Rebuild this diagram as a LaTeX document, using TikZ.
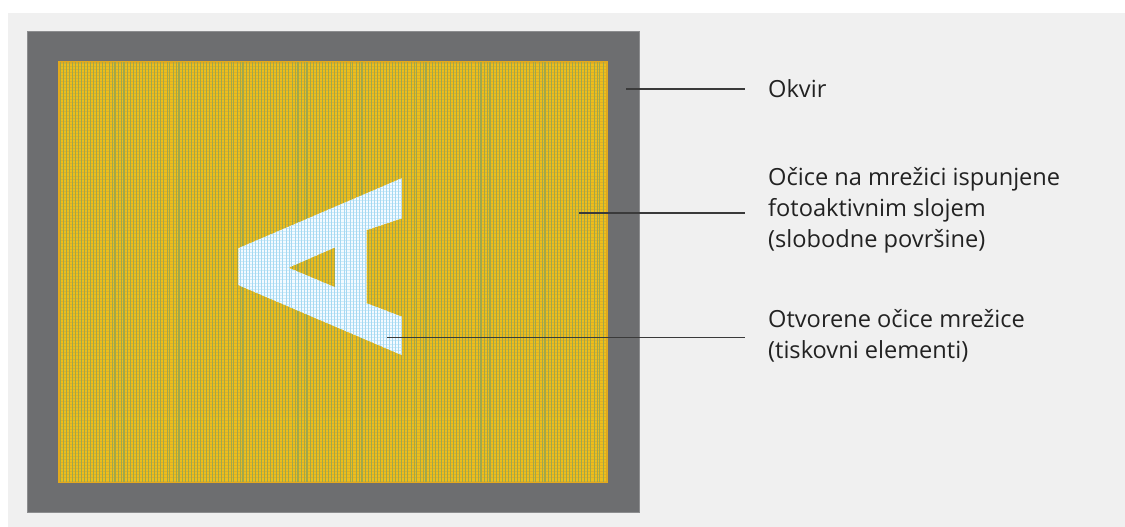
\documentclass[tikz,border=0pt]{standalone}
\usepackage{fontspec}
\setmainfont{Open Sans}
\definecolor{bgc}{HTML}{F0F0F0}
\definecolor{framec}{HTML}{6D6E70}
\definecolor{framee}{HTML}{8C8D8F}
\definecolor{yel}{HTML}{ECBE1C}
\definecolor{yele}{HTML}{E2A91E}
\definecolor{vline}{HTML}{A0A84A}
\definecolor{hline}{HTML}{E0AE26}
\definecolor{awhite}{HTML}{F4FAFF}
\definecolor{ablue}{HTML}{A6D8F2}
\definecolor{ablueh}{HTML}{CDEBF9}
\definecolor{leader}{HTML}{3A3A3A}
\definecolor{txt}{HTML}{222222}
\tikzset{
  leaderline/.style={draw=leader, line width=1.3pt},
  label/.style={anchor=base west, inner sep=0pt, text=txt, align=left,
    font=\fontsize{23.6}{31}\selectfont},
}
\begin{document}
\begin{tikzpicture}[x=1pt,y=-1pt]
\useasboundingbox (0,0) rectangle (1125,527);
\fill[bgc] (8,13) rectangle (1125,527);
% frame
\fill[framec, draw=framee, line width=0.8pt] (27,31) rectangle (639,512);
% yellow mesh
\fill[yel, draw=yele, line width=1.2pt] (59,62) rectangle (607,482);
\begin{scope}
  \clip (60,63) rectangle (606,481);
  \foreach \i in {0,...,140} {
    \draw[hline, line width=0.7pt] (59,{63+3.05*\i}) -- (607,{63+3.05*\i});
  }
  \foreach \i in {0,...,180} {
    \pgfmathsetmacro{\w}{mod(\i,3)==0 ? 1.2 : 0.5}
    \draw[vline, line width=\w pt] ({60+3.05*\i},62) -- ({60+3.05*\i},482);
  }
\end{scope}
% letter A (open mesh)
\def\Apath{(401.7,178.3) -- (401.7,218.3) -- (366.7,230) -- (366.7,303.3) -- (401.7,316.7) -- (401.7,355) -- (238.3,285) -- (238.3,248.3) -- cycle (288.3,267.7) -- (335,247.3) -- (335,287.3) -- cycle}
\fill[awhite, even odd rule] \Apath;
\begin{scope}[even odd rule]
  \clip \Apath;
  \foreach \i in {0,...,60} {
    \draw[ablueh, line width=0.5pt] (236,{176+3.05*\i}) -- (404,{176+3.05*\i});
  }
  \foreach \i in {0,...,56} {
    \pgfmathsetmacro{\w}{mod(\i,3)==0 ? 0.9 : 0.45}
    \draw[ablue, line width=\w pt] ({237+3.05*\i},176) -- ({237+3.05*\i},357);
  }
\end{scope}
% labels (anchor = baseline of last line)
\node[label] (okvir) at (768,97) {Okvir};
\node[label] (ocice) at (768,247) {Očice na mrežici ispunjene\\fotoaktivnim slojem\\(slobodne površine)};
\node[label] (otvorene) at (768,358) {Otvorene očice mrežice\\(tiskovni elementi)};
% leader lines
\coordinate (p1) at (626,89);
\coordinate (q1) at (745,89);
\coordinate (p2) at (579,213);
\coordinate (q2) at (745,213);
\coordinate (p3) at (387,337.5);
\coordinate (q3) at (745,337.5);
\draw[leaderline] (p1) -- (q1);
\draw[leaderline] (p2) -- (q2);
\draw[leaderline] (p3) -- (q3);
\end{tikzpicture}
\end{document}
